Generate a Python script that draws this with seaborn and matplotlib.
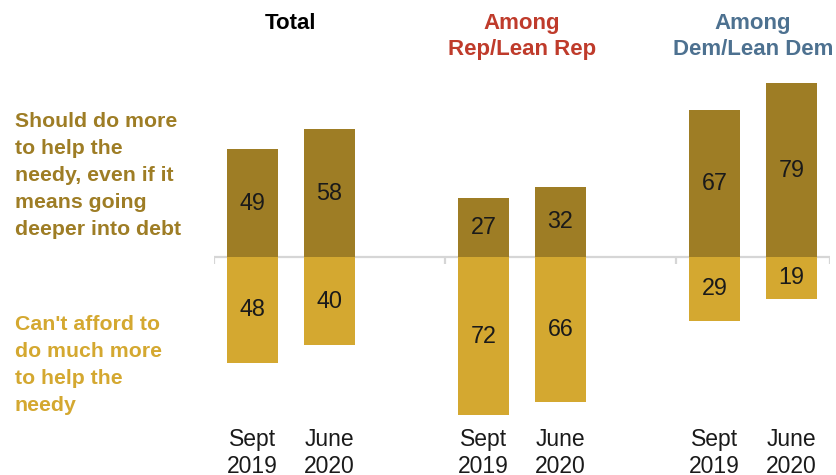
import matplotlib
matplotlib.use("Agg")
import matplotlib.pyplot as plt
import matplotlib.transforms as mtransforms
import numpy as np
import pandas as pd
import seaborn as sns

# Survey data: share saying government should do more / can't afford more
groups = ["Total", "Among\nRep/Lean Rep", "Among\nDem/Lean Dem"]
group_colors = ["#000000", "#BF3B2B", "#4D7190"]
periods = ["Sept\n2019", "June\n2020"]
more_help = [49, 58, 27, 32, 67, 79]
cant_afford = [48, 40, 72, 66, 29, 19]

label_more = "Should do more\nto help the\nneedy, even if it\nmeans going\ndeeper into debt"
label_cant = "Can't afford to\ndo much more\nto help the\nneedy"

COLOR_MORE = "#9E7D25"
COLOR_CANT = "#D4A830"
AXIS_GRAY = "#D6D6D6"

# Slot layout: two bars per group plus a spacer slot between groups
slots = []
order = []
for gi, g in enumerate(groups):
    for p in periods:
        key = f"{gi}|{p}"
        slots.append(key)
        order.append(key)
    if gi < len(groups) - 1:
        order.append(f"gap{gi}")

df = pd.DataFrame({
    "slot": slots,
    "group": [g for g in groups for _ in periods],
    "period": periods * len(groups),
    "more": more_help,
    "cant": cant_afford,
})
df["cant_neg"] = -df["cant"]

sns.set_theme(style="white")
plt.rcParams["font.family"] = ["Liberation Sans", "DejaVu Sans"]

W, H = 837, 475
fig = plt.figure(figsize=(W / 100, H / 100), dpi=100)
px_per_unit = 2.2
base_y = 257
top_px, bot_px = 60, 430
ax = fig.add_axes([214 / W, (H - bot_px) / H, 616 / W, (bot_px - top_px) / H])

sns.barplot(data=df, x="slot", y="more", order=order, color=COLOR_MORE,
            width=0.662, linewidth=0, saturation=1, ax=ax)
sns.barplot(data=df, x="slot", y="cant_neg", order=order, color=COLOR_CANT,
            width=0.662, linewidth=0, saturation=1, ax=ax)

ax.set_xlim(-0.5, len(order) - 0.5)
ax.set_ylim(-(bot_px - base_y) / px_per_unit, (base_y - top_px) / px_per_unit)

# Value labels centred inside each bar
ax.bar_label(ax.containers[0], labels=[str(v) for v in df["more"]],
             label_type="center", fontsize=16.8, color="#1a1a1a")
ax.bar_label(ax.containers[1], labels=[str(v) for v in df["cant"]],
             label_type="center", fontsize=16.8, color="#1a1a1a")

# Zero line with small downward ticks at group boundaries
ax.axhline(0, color=AXIS_GRAY, lw=1.6, zorder=0.5)
tick_len = 7 / px_per_unit
ax.vlines([-0.5, 2.5, 5.5, len(order) - 0.5], -tick_len, 0,
          color=AXIS_GRAY, lw=1.6, zorder=0.5)

for s in ax.spines.values():
    s.set_visible(False)
ax.set_yticks([])
ax.set_ylabel("")
ax.set_xlabel("")
bar_pos = [order.index(k) for k in slots]
ax.set_xticks(bar_pos)
ax.set_xticklabels(df["period"], fontsize=16.5, color="#1a1a1a", linespacing=1.24)
ax.tick_params(axis="x", length=0, pad=-1.5)

# Group headers centred over each pair of bars
trans = mtransforms.blended_transform_factory(ax.transData, fig.transFigure)
for gi, g in enumerate(groups):
    cx = np.mean(bar_pos[2 * gi: 2 * gi + 2])
    ax.text(cx, 1 - 13 / H, g, transform=trans, ha="center", va="top",
            fontsize=16, fontweight="bold", color=group_colors[gi],
            linespacing=1.3)

# Side labels for the two answer options
fig.text(15 / W, 1 - 112 / H, label_more, ha="left", va="top",
         fontsize=15.3, fontweight="bold", color=COLOR_MORE, linespacing=1.53)
fig.text(15 / W, 1 - 315 / H, label_cant, ha="left", va="top",
         fontsize=15.3, fontweight="bold", color=COLOR_CANT, linespacing=1.53)

fig.savefig("out.png", dpi=100)
